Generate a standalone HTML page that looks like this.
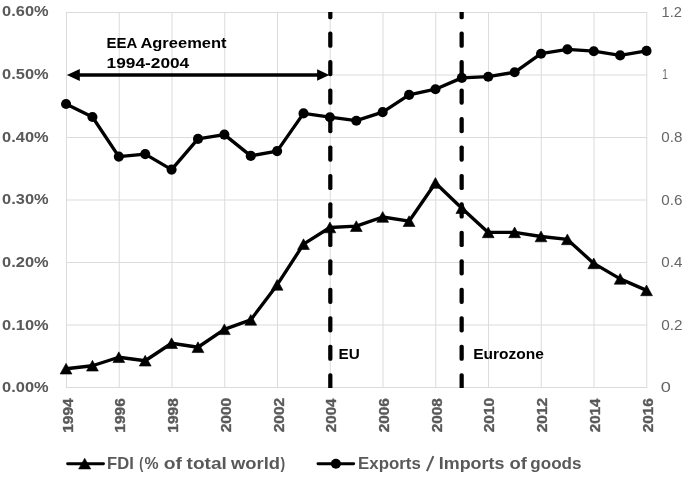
<!DOCTYPE html>
<html><head><meta charset="utf-8"><title>Chart</title>
<style>html,body{margin:0;padding:0;background:#fff}body{width:685px;height:481px;overflow:hidden;font-family:"Liberation Sans",sans-serif}</style>
</head><body>
<svg width="685" height="481" viewBox="0 0 685 481" style="display:block;filter:url(#noop)"><filter id="noop" x="0" y="0" width="100%" height="100%" filterUnits="objectBoundingBox"><feOffset dx="0" dy="0"/></filter>
<rect width="685" height="481" fill="#fff"/>
<g stroke="#dcdcdc" stroke-width="1.05" fill="none"><line x1="66.0" y1="387.50" x2="647.25" y2="387.50"/><line x1="66.0" y1="325.00" x2="647.25" y2="325.00"/><line x1="66.0" y1="262.50" x2="647.25" y2="262.50"/><line x1="66.0" y1="200.00" x2="647.25" y2="200.00"/><line x1="66.0" y1="137.50" x2="647.25" y2="137.50"/><line x1="66.0" y1="75.00" x2="647.25" y2="75.00"/><line x1="66.0" y1="12.50" x2="647.25" y2="12.50"/><line x1="66.50" y1="12.5" x2="66.50" y2="387.5"/><line x1="119.25" y1="12.5" x2="119.25" y2="387.5"/><line x1="172.00" y1="12.5" x2="172.00" y2="387.5"/><line x1="224.75" y1="12.5" x2="224.75" y2="387.5"/><line x1="277.50" y1="12.5" x2="277.50" y2="387.5"/><line x1="330.25" y1="12.5" x2="330.25" y2="387.5"/><line x1="383.00" y1="12.5" x2="383.00" y2="387.5"/><line x1="435.75" y1="12.5" x2="435.75" y2="387.5"/><line x1="488.50" y1="12.5" x2="488.50" y2="387.5"/><line x1="541.25" y1="12.5" x2="541.25" y2="387.5"/><line x1="594.00" y1="12.5" x2="594.00" y2="387.5"/><line x1="646.75" y1="12.5" x2="646.75" y2="387.5"/></g>
<clipPath id="pc"><rect x="60" y="12.0" width="600" height="376.0"/></clipPath><g clip-path="url(#pc)">
<rect x="328.18" y="3.15" width="4.25" height="16.20" rx="1.9" fill="#000"/>
<rect x="328.18" y="31.61" width="4.25" height="16.20" rx="1.9" fill="#000"/>
<rect x="328.18" y="60.07" width="4.25" height="16.20" rx="1.9" fill="#000"/>
<rect x="328.18" y="88.53" width="4.25" height="16.20" rx="1.9" fill="#000"/>
<rect x="328.18" y="116.99" width="4.25" height="16.20" rx="1.9" fill="#000"/>
<rect x="328.18" y="145.45" width="4.25" height="16.20" rx="1.9" fill="#000"/>
<rect x="328.18" y="173.91" width="4.25" height="16.20" rx="1.9" fill="#000"/>
<rect x="328.18" y="202.37" width="4.25" height="16.20" rx="1.9" fill="#000"/>
<rect x="328.18" y="230.83" width="4.25" height="16.20" rx="1.9" fill="#000"/>
<rect x="328.18" y="259.29" width="4.25" height="16.20" rx="1.9" fill="#000"/>
<rect x="328.18" y="287.75" width="4.25" height="16.20" rx="1.9" fill="#000"/>
<rect x="328.18" y="316.21" width="4.25" height="16.20" rx="1.9" fill="#000"/>
<rect x="328.18" y="344.67" width="4.25" height="16.20" rx="1.9" fill="#000"/>
<rect x="328.18" y="373.13" width="4.25" height="16.20" rx="1.9" fill="#000"/>
<rect x="459.53" y="3.15" width="4.25" height="16.20" rx="1.9" fill="#000"/>
<rect x="459.53" y="31.61" width="4.25" height="16.20" rx="1.9" fill="#000"/>
<rect x="459.53" y="60.07" width="4.25" height="16.20" rx="1.9" fill="#000"/>
<rect x="459.53" y="88.53" width="4.25" height="16.20" rx="1.9" fill="#000"/>
<rect x="459.53" y="116.99" width="4.25" height="16.20" rx="1.9" fill="#000"/>
<rect x="459.53" y="145.45" width="4.25" height="16.20" rx="1.9" fill="#000"/>
<rect x="459.53" y="173.91" width="4.25" height="16.20" rx="1.9" fill="#000"/>
<rect x="459.53" y="202.37" width="4.25" height="16.20" rx="1.9" fill="#000"/>
<rect x="459.53" y="230.83" width="4.25" height="16.20" rx="1.9" fill="#000"/>
<rect x="459.53" y="259.29" width="4.25" height="16.20" rx="1.9" fill="#000"/>
<rect x="459.53" y="287.75" width="4.25" height="16.20" rx="1.9" fill="#000"/>
<rect x="459.53" y="316.21" width="4.25" height="16.20" rx="1.9" fill="#000"/>
<rect x="459.53" y="344.67" width="4.25" height="16.20" rx="1.9" fill="#000"/>
<rect x="459.53" y="373.13" width="4.25" height="16.20" rx="1.9" fill="#000"/>
</g>
<line x1="76" y1="75.0" x2="320" y2="75.0" stroke="#000" stroke-width="3.7"/>
<polygon points="66.9,75.0 79.8,69.1 79.8,80.9" fill="#000"/>
<polygon points="329.3,75.0 317.1,69.2 317.1,80.8" fill="#000"/>
<polyline points="66.05,104 92.44,117 118.82,156.6 145.21,154.1 171.59,169.6 197.98,138.9 224.37,134.6 250.75,155.9 277.14,151.1 303.52,113.4 329.91,117.2 356.30,120.7 382.68,112.1 409.07,94.9 435.45,89.2 461.84,77.9 488.23,76.7 514.61,72.3 541.00,53.7 567.38,49.4 593.77,51.2 620.16,55.4 646.54,50.9" fill="none" stroke="#000" stroke-width="3.35" stroke-linejoin="round" stroke-linecap="round"/>
<circle cx="66.05" cy="104" r="5.05" fill="#000"/>
<circle cx="92.44" cy="117" r="5.05" fill="#000"/>
<circle cx="118.82" cy="156.6" r="5.05" fill="#000"/>
<circle cx="145.21" cy="154.1" r="5.05" fill="#000"/>
<circle cx="171.59" cy="169.6" r="5.05" fill="#000"/>
<circle cx="197.98" cy="138.9" r="5.05" fill="#000"/>
<circle cx="224.37" cy="134.6" r="5.05" fill="#000"/>
<circle cx="250.75" cy="155.9" r="5.05" fill="#000"/>
<circle cx="277.14" cy="151.1" r="5.05" fill="#000"/>
<circle cx="303.52" cy="113.4" r="5.05" fill="#000"/>
<circle cx="329.91" cy="117.2" r="5.05" fill="#000"/>
<circle cx="356.30" cy="120.7" r="5.05" fill="#000"/>
<circle cx="382.68" cy="112.1" r="5.05" fill="#000"/>
<circle cx="409.07" cy="94.9" r="5.05" fill="#000"/>
<circle cx="435.45" cy="89.2" r="5.05" fill="#000"/>
<circle cx="461.84" cy="77.9" r="5.05" fill="#000"/>
<circle cx="488.23" cy="76.7" r="5.05" fill="#000"/>
<circle cx="514.61" cy="72.3" r="5.05" fill="#000"/>
<circle cx="541.00" cy="53.7" r="5.05" fill="#000"/>
<circle cx="567.38" cy="49.4" r="5.05" fill="#000"/>
<circle cx="593.77" cy="51.2" r="5.05" fill="#000"/>
<circle cx="620.16" cy="55.4" r="5.05" fill="#000"/>
<circle cx="646.54" cy="50.9" r="5.05" fill="#000"/>
<polyline points="66.05,368.75 92.44,365.75 118.82,357.25 145.21,360.75 171.59,343.25 197.98,347.25 224.37,329.3 250.75,319.9 277.14,284.9 303.52,244.2 329.91,227.5 356.30,226.2 382.68,217 409.07,221.2 435.45,183 461.84,208.2 488.23,232.4 514.61,232.4 541.00,236.5 567.38,239.4 593.77,263.4 620.16,278.9 646.54,290.4" fill="none" stroke="#000" stroke-width="3.35" stroke-linejoin="round" stroke-linecap="round"/>
<polygon points="66.05,363.35 60.15,374.05 71.95,374.05" fill="#000" stroke="#000" stroke-width="0.6" stroke-linejoin="round"/>
<polygon points="92.44,360.35 86.54,371.05 98.34,371.05" fill="#000" stroke="#000" stroke-width="0.6" stroke-linejoin="round"/>
<polygon points="118.82,351.85 112.92,362.55 124.72,362.55" fill="#000" stroke="#000" stroke-width="0.6" stroke-linejoin="round"/>
<polygon points="145.21,355.35 139.31,366.05 151.11,366.05" fill="#000" stroke="#000" stroke-width="0.6" stroke-linejoin="round"/>
<polygon points="171.59,337.85 165.69,348.55 177.49,348.55" fill="#000" stroke="#000" stroke-width="0.6" stroke-linejoin="round"/>
<polygon points="197.98,341.85 192.08,352.55 203.88,352.55" fill="#000" stroke="#000" stroke-width="0.6" stroke-linejoin="round"/>
<polygon points="224.37,323.90 218.47,334.60 230.27,334.60" fill="#000" stroke="#000" stroke-width="0.6" stroke-linejoin="round"/>
<polygon points="250.75,314.50 244.85,325.20 256.65,325.20" fill="#000" stroke="#000" stroke-width="0.6" stroke-linejoin="round"/>
<polygon points="277.14,279.50 271.24,290.20 283.04,290.20" fill="#000" stroke="#000" stroke-width="0.6" stroke-linejoin="round"/>
<polygon points="303.52,238.80 297.62,249.50 309.42,249.50" fill="#000" stroke="#000" stroke-width="0.6" stroke-linejoin="round"/>
<polygon points="329.91,222.10 324.01,232.80 335.81,232.80" fill="#000" stroke="#000" stroke-width="0.6" stroke-linejoin="round"/>
<polygon points="356.30,220.80 350.40,231.50 362.20,231.50" fill="#000" stroke="#000" stroke-width="0.6" stroke-linejoin="round"/>
<polygon points="382.68,211.60 376.78,222.30 388.58,222.30" fill="#000" stroke="#000" stroke-width="0.6" stroke-linejoin="round"/>
<polygon points="409.07,215.80 403.17,226.50 414.97,226.50" fill="#000" stroke="#000" stroke-width="0.6" stroke-linejoin="round"/>
<polygon points="435.45,177.60 429.55,188.30 441.35,188.30" fill="#000" stroke="#000" stroke-width="0.6" stroke-linejoin="round"/>
<polygon points="461.84,202.80 455.94,213.50 467.74,213.50" fill="#000" stroke="#000" stroke-width="0.6" stroke-linejoin="round"/>
<polygon points="488.23,227.00 482.33,237.70 494.13,237.70" fill="#000" stroke="#000" stroke-width="0.6" stroke-linejoin="round"/>
<polygon points="514.61,227.00 508.71,237.70 520.51,237.70" fill="#000" stroke="#000" stroke-width="0.6" stroke-linejoin="round"/>
<polygon points="541.00,231.10 535.10,241.80 546.90,241.80" fill="#000" stroke="#000" stroke-width="0.6" stroke-linejoin="round"/>
<polygon points="567.38,234.00 561.48,244.70 573.28,244.70" fill="#000" stroke="#000" stroke-width="0.6" stroke-linejoin="round"/>
<polygon points="593.77,258.00 587.87,268.70 599.67,268.70" fill="#000" stroke="#000" stroke-width="0.6" stroke-linejoin="round"/>
<polygon points="620.16,273.50 614.26,284.20 626.06,284.20" fill="#000" stroke="#000" stroke-width="0.6" stroke-linejoin="round"/>
<polygon points="646.54,285.00 640.64,295.70 652.44,295.70" fill="#000" stroke="#000" stroke-width="0.6" stroke-linejoin="round"/>
<text x="2.11" y="392.43" font-family="Liberation Sans, sans-serif" font-size="15.10" font-weight="bold" fill="#595959" textLength="46.52" lengthAdjust="spacingAndGlyphs">0.00%</text>
<text x="2.11" y="329.71" font-family="Liberation Sans, sans-serif" font-size="15.10" font-weight="bold" fill="#595959" textLength="46.52" lengthAdjust="spacingAndGlyphs">0.10%</text>
<text x="2.11" y="266.99" font-family="Liberation Sans, sans-serif" font-size="15.10" font-weight="bold" fill="#595959" textLength="46.52" lengthAdjust="spacingAndGlyphs">0.20%</text>
<text x="2.11" y="204.27" font-family="Liberation Sans, sans-serif" font-size="15.10" font-weight="bold" fill="#595959" textLength="46.52" lengthAdjust="spacingAndGlyphs">0.30%</text>
<text x="2.11" y="141.55" font-family="Liberation Sans, sans-serif" font-size="15.10" font-weight="bold" fill="#595959" textLength="46.52" lengthAdjust="spacingAndGlyphs">0.40%</text>
<text x="2.11" y="78.82" font-family="Liberation Sans, sans-serif" font-size="15.10" font-weight="bold" fill="#595959" textLength="46.52" lengthAdjust="spacingAndGlyphs">0.50%</text>
<text x="2.11" y="16.11" font-family="Liberation Sans, sans-serif" font-size="15.10" font-weight="bold" fill="#595959" textLength="46.52" lengthAdjust="spacingAndGlyphs">0.60%</text>
<text x="660.85" y="392.10" font-family="Liberation Sans, sans-serif" font-size="14.60" font-weight="normal" fill="#666666" textLength="10.10" lengthAdjust="spacingAndGlyphs">0</text>
<text x="661.30" y="329.57" font-family="Liberation Sans, sans-serif" font-size="14.60" font-weight="normal" fill="#666666" textLength="21.33" lengthAdjust="spacingAndGlyphs">0.2</text>
<text x="661.30" y="267.04" font-family="Liberation Sans, sans-serif" font-size="14.60" font-weight="normal" fill="#666666" textLength="21.05" lengthAdjust="spacingAndGlyphs">0.4</text>
<text x="661.30" y="204.51" font-family="Liberation Sans, sans-serif" font-size="14.60" font-weight="normal" fill="#666666" textLength="21.05" lengthAdjust="spacingAndGlyphs">0.6</text>
<text x="661.30" y="141.98" font-family="Liberation Sans, sans-serif" font-size="14.60" font-weight="normal" fill="#666666" textLength="21.05" lengthAdjust="spacingAndGlyphs">0.8</text>
<text x="662.15" y="79.45" font-family="Liberation Sans, sans-serif" font-size="14.60" font-weight="normal" fill="#666666" textLength="5.56" lengthAdjust="spacingAndGlyphs">1</text>
<text x="661.60" y="17.05" font-family="Liberation Sans, sans-serif" font-size="14.60" font-weight="normal" fill="#666666" textLength="20.41" lengthAdjust="spacingAndGlyphs">1.2</text>
<g transform="translate(72.65,432.75) rotate(-90)"><text x="0.00" y="0.00" font-family="Liberation Sans, sans-serif" font-size="15.20" font-weight="bold" fill="#595959" stroke="#595959" stroke-width="0.35" textLength="34.31" lengthAdjust="spacingAndGlyphs">1994</text></g>
<g transform="translate(125.36,432.75) rotate(-90)"><text x="0.00" y="0.00" font-family="Liberation Sans, sans-serif" font-size="15.20" font-weight="bold" fill="#595959" stroke="#595959" stroke-width="0.35" textLength="34.58" lengthAdjust="spacingAndGlyphs">1996</text></g>
<g transform="translate(178.08,432.75) rotate(-90)"><text x="0.00" y="0.00" font-family="Liberation Sans, sans-serif" font-size="15.20" font-weight="bold" fill="#595959" stroke="#595959" stroke-width="0.35" textLength="34.58" lengthAdjust="spacingAndGlyphs">1998</text></g>
<g transform="translate(230.79,432.25) rotate(-90)"><text x="0.00" y="0.00" font-family="Liberation Sans, sans-serif" font-size="15.20" font-weight="bold" fill="#595959" stroke="#595959" stroke-width="0.35" textLength="34.32" lengthAdjust="spacingAndGlyphs">2000</text></g>
<g transform="translate(283.51,432.25) rotate(-90)"><text x="0.00" y="0.00" font-family="Liberation Sans, sans-serif" font-size="15.20" font-weight="bold" fill="#595959" stroke="#595959" stroke-width="0.35" textLength="34.32" lengthAdjust="spacingAndGlyphs">2002</text></g>
<g transform="translate(336.22,432.25) rotate(-90)"><text x="0.00" y="0.00" font-family="Liberation Sans, sans-serif" font-size="15.20" font-weight="bold" fill="#595959" stroke="#595959" stroke-width="0.35" textLength="33.80" lengthAdjust="spacingAndGlyphs">2004</text></g>
<g transform="translate(388.93,432.25) rotate(-90)"><text x="0.00" y="0.00" font-family="Liberation Sans, sans-serif" font-size="15.20" font-weight="bold" fill="#595959" stroke="#595959" stroke-width="0.35" textLength="34.06" lengthAdjust="spacingAndGlyphs">2006</text></g>
<g transform="translate(441.65,432.25) rotate(-90)"><text x="0.00" y="0.00" font-family="Liberation Sans, sans-serif" font-size="15.20" font-weight="bold" fill="#595959" stroke="#595959" stroke-width="0.35" textLength="34.06" lengthAdjust="spacingAndGlyphs">2008</text></g>
<g transform="translate(494.36,432.25) rotate(-90)"><text x="0.00" y="0.00" font-family="Liberation Sans, sans-serif" font-size="15.20" font-weight="bold" fill="#595959" stroke="#595959" stroke-width="0.35" textLength="34.32" lengthAdjust="spacingAndGlyphs">2010</text></g>
<g transform="translate(547.08,432.25) rotate(-90)"><text x="0.00" y="0.00" font-family="Liberation Sans, sans-serif" font-size="15.20" font-weight="bold" fill="#595959" stroke="#595959" stroke-width="0.35" textLength="34.32" lengthAdjust="spacingAndGlyphs">2012</text></g>
<g transform="translate(599.79,432.25) rotate(-90)"><text x="0.00" y="0.00" font-family="Liberation Sans, sans-serif" font-size="15.20" font-weight="bold" fill="#595959" stroke="#595959" stroke-width="0.35" textLength="33.80" lengthAdjust="spacingAndGlyphs">2014</text></g>
<g transform="translate(652.50,432.25) rotate(-90)"><text x="0.00" y="0.00" font-family="Liberation Sans, sans-serif" font-size="15.20" font-weight="bold" fill="#595959" stroke="#595959" stroke-width="0.35" textLength="34.06" lengthAdjust="spacingAndGlyphs">2016</text></g>
<text x="106.56" y="47.50" font-family="Liberation Sans, sans-serif" font-size="15.40" font-weight="bold" fill="#000" textLength="30.77" lengthAdjust="spacingAndGlyphs">EEA</text>
<text x="140.40" y="47.50" font-family="Liberation Sans, sans-serif" font-size="15.40" font-weight="bold" fill="#000" textLength="86.16" lengthAdjust="spacingAndGlyphs">Agreement</text>
<text x="106.56" y="67.50" font-family="Liberation Sans, sans-serif" font-size="15.40" font-weight="bold" fill="#000" textLength="82.70" lengthAdjust="spacingAndGlyphs">1994-2004</text>
<text x="338.60" y="358.70" font-family="Liberation Sans, sans-serif" font-size="15.40" font-weight="bold" fill="#000" textLength="21.23" lengthAdjust="spacingAndGlyphs">EU</text>
<text x="473.20" y="358.70" font-family="Liberation Sans, sans-serif" font-size="15.40" font-weight="bold" fill="#000" textLength="70.73" lengthAdjust="spacingAndGlyphs">Eurozone</text>
<text x="107.10" y="468.50" font-family="Liberation Sans, sans-serif" font-size="16.40" font-weight="bold" fill="#595959" textLength="26.68" lengthAdjust="spacingAndGlyphs">FDI</text>
<text x="139.30" y="468.50" font-family="Liberation Sans, sans-serif" font-size="16.40" font-weight="bold" fill="#595959" textLength="4.08" lengthAdjust="spacingAndGlyphs">(</text>
<text x="144.40" y="468.50" font-family="Liberation Sans, sans-serif" font-size="16.40" font-weight="bold" fill="#595959" textLength="14.08" lengthAdjust="spacingAndGlyphs">%</text>
<text x="163.85" y="468.50" font-family="Liberation Sans, sans-serif" font-size="16.40" font-weight="bold" fill="#595959" textLength="18.18" lengthAdjust="spacingAndGlyphs">of</text>
<text x="186.55" y="468.50" font-family="Liberation Sans, sans-serif" font-size="16.40" font-weight="bold" fill="#595959" textLength="40.26" lengthAdjust="spacingAndGlyphs">total</text>
<text x="231.00" y="468.50" font-family="Liberation Sans, sans-serif" font-size="16.40" font-weight="bold" fill="#595959" textLength="48.98" lengthAdjust="spacingAndGlyphs">world</text>
<text x="280.45" y="468.50" font-family="Liberation Sans, sans-serif" font-size="16.40" font-weight="bold" fill="#595959" textLength="4.64" lengthAdjust="spacingAndGlyphs">)</text>
<text x="358.10" y="468.50" font-family="Liberation Sans, sans-serif" font-size="16.40" font-weight="bold" fill="#595959" textLength="62.70" lengthAdjust="spacingAndGlyphs">Exports</text>
<text x="438.75" y="468.50" font-family="Liberation Sans, sans-serif" font-size="16.40" font-weight="bold" fill="#595959" textLength="65.61" lengthAdjust="spacingAndGlyphs">Imports</text>
<text x="509.45" y="468.50" font-family="Liberation Sans, sans-serif" font-size="16.40" font-weight="bold" fill="#595959" textLength="17.43" lengthAdjust="spacingAndGlyphs">of</text>
<text x="530.35" y="468.50" font-family="Liberation Sans, sans-serif" font-size="16.40" font-weight="bold" fill="#595959" textLength="51.14" lengthAdjust="spacingAndGlyphs">goods</text>
<line x1="67.6" y1="463.7" x2="103.5" y2="463.7" stroke="#000" stroke-width="2.9" stroke-linecap="round"/>
<polygon points="84.7,458.2 78.6,469.0 90.8,469.0" fill="#000" stroke="#000" stroke-width="0.5" stroke-linejoin="round"/>
<line x1="318.0" y1="463.7" x2="353.7" y2="463.7" stroke="#000" stroke-width="2.9" stroke-linecap="round"/>
<circle cx="335.9" cy="463.7" r="5.0" fill="#000"/>
<line x1="426.9" y1="471.2" x2="433.4" y2="456.2" stroke="#595959" stroke-width="2.0"/>
</svg>
</body></html>
